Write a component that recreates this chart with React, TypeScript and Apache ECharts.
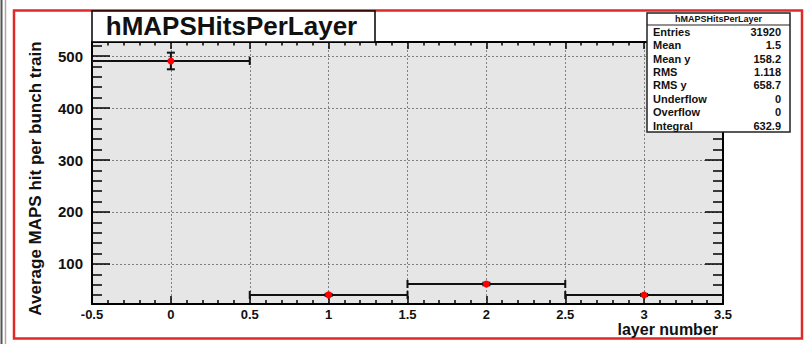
import React, { useEffect, useRef } from "react";
import * as echarts from "echarts";

const layers = [0, 1, 2, 3];
const avgHits = [490.5, 40.5, 61.5, 40.4];
const errors = [16, 2, 2.5, 2];
const yMajor = [100, 200, 300, 400, 500];
const yMinor = [40, 60, 80, 120, 140, 160, 180, 220, 240, 260, 280, 320, 340, 360, 380, 420, 440, 460, 480, 520];
const statNames = ["Entries", "Mean", "Mean y", "RMS", "RMS y", "Underflow", "Overflow", "Integral"];
const statValues = ["31920", "1.5", "158.2", "1.118", "658.7", "0", "0", "632.9"];

const FONT = "'Liberation Sans', Arial, sans-serif";

export default function App() {
  const ref = useRef<HTMLDivElement>(null);
  useEffect(() => {
    if (!ref.current) return;
    const chart = echarts.init(ref.current, undefined, { renderer: "svg" });
    const data = layers.map((l, i) => [l, avgHits[i], errors[i]]);
    const black = { color: "#000", width: 2 };
    const tickStyle = { color: "#000", width: 1.5 };
    const yBase = (position: string) => ({
      type: "value",
      position,
      min: 23,
      max: 527,
      interval: 100,
      axisLine: { show: true, onZero: false, lineStyle: black },
      splitLine: { show: false },
      axisLabel: { show: false },
    });
    const xBase = (position: string) => ({
      type: "value",
      position,
      min: -0.5,
      max: 3.5,
      interval: 0.5,
      axisLine: { show: true, onZero: false, lineStyle: black },
      splitLine: { show: false },
      axisLabel: { show: false },
    });
    const statTop = 25;
    const rowH = 13.4;
    const statGraphics: any[] = [];
    statNames.forEach((n, i) => {
      const y = statTop + rowH * (i + 0.5);
      statGraphics.push({
        type: "text",
        x: 653,
        y,
        z: 110,
        style: { text: n, font: `bold 11px ${FONT}`, fill: "#111", textAlign: "left", textVerticalAlign: "middle" },
      });
      statGraphics.push({
        type: "text",
        x: 781,
        y,
        z: 110,
        style: { text: statValues[i], font: `bold 11px ${FONT}`, fill: "#111", textAlign: "right", textVerticalAlign: "middle" },
      });
    });

    chart.setOption({
      animation: false,
      backgroundColor: "#fff",
      grid: {
        left: 92,
        right: 87,
        top: 42,
        bottom: 40,
        show: true,
        backgroundColor: "#e6e6e6",
        borderWidth: 0,
      },
      xAxis: [
        {
          ...xBase("bottom"),
          axisTick: { show: true, inside: true, length: 8, lineStyle: tickStyle },
          minorTick: { show: true, splitNumber: 5, length: 4, lineStyle: tickStyle },
          axisLabel: {
            show: true,
            margin: 4,
            color: "#111",
            fontFamily: FONT,
            fontWeight: "bold",
            fontSize: 13,
          },
          splitLine: { show: true, lineStyle: { color: "#808080", width: 1, type: [2, 2] } },
        },
        {
          ...xBase("top"),
          axisTick: { show: true, inside: true, length: 7, lineStyle: tickStyle },
          minorTick: { show: true, splitNumber: 5, length: 3.5, lineStyle: tickStyle },
        },
      ],
      yAxis: [
        {
          ...yBase("left"),
          axisTick: { show: true, inside: true, length: 18, customValues: yMajor, lineStyle: tickStyle },
          axisLabel: {
            show: true,
            customValues: yMajor,
            margin: 9,
            color: "#111",
            fontFamily: FONT,
            fontWeight: "bold",
            fontSize: 15,
          },
          splitLine: { show: true, lineStyle: { color: "#808080", width: 1, type: [2, 2] } },
        },
        {
          ...yBase("left"),
          axisLine: { show: false, onZero: false },
          axisTick: { show: true, inside: true, length: 10, customValues: yMinor, lineStyle: tickStyle },
        },
        {
          ...yBase("right"),
          axisTick: { show: true, inside: true, length: 18, customValues: yMajor, lineStyle: tickStyle },
        },
        {
          ...yBase("right"),
          axisLine: { show: false, onZero: false },
          axisTick: { show: true, inside: true, length: 10, customValues: yMinor, lineStyle: tickStyle },
        },
      ],
      series: [
        {
          type: "custom",
          xAxisIndex: 0,
          yAxisIndex: 0,
          clip: true,
          data,
          encode: { x: 0, y: 1 },
          renderItem: (params: any, api: any) => {
            const x = api.value(0);
            const y = api.value(1);
            const e = api.value(2);
            const pL = api.coord([x - 0.5, y]);
            const pR = api.coord([x + 0.5, y]);
            const pC = api.coord([x, y]);
            const pT = api.coord([x, y + e]);
            const pB = api.coord([x, y - e]);
            const cap = 4;
            const ls = { stroke: "#111", lineWidth: 2 };
            const line = (x1: number, y1: number, x2: number, y2: number) => ({
              type: "line",
              shape: { x1, y1, x2, y2 },
              style: ls,
            });
            return {
              type: "group",
              children: [
                line(pL[0], pL[1], pR[0], pR[1]),
                line(pL[0], pL[1] - cap, pL[0], pL[1] + cap),
                line(pR[0], pR[1] - cap, pR[0], pR[1] + cap),
                line(pT[0], pT[1], pB[0], pB[1]),
                line(pT[0] - cap, pT[1], pT[0] + cap, pT[1]),
                line(pB[0] - cap, pB[1], pB[0] + cap, pB[1]),
                { type: "circle", shape: { cx: pC[0], cy: pC[1], r: 3.5 }, style: { fill: "#ff0000" } },
              ],
            };
          },
        },
      ],
      graphic: [
        { type: "line", z: 100, shape: { x1: 1.5, y1: 0, x2: 1.5, y2: 344 }, style: { stroke: "#555", lineWidth: 2 } },
        { type: "line", z: 100, shape: { x1: 5.5, y1: 0, x2: 5.5, y2: 344 }, style: { stroke: "#aaa", lineWidth: 1.5 } },
        { type: "rect", z: 100, shape: { x: 14, y: 10.5, width: 788, height: 328 }, style: { fill: "none", stroke: "#e02a2a", lineWidth: 2.5 } },
        { type: "rect", z: 100, shape: { x: 92, y: 11, width: 283, height: 31 }, style: { fill: "#fff", stroke: "#000", lineWidth: 1.5 } },
        {
          type: "text",
          z: 110,
          x: 231.5,
          y: 26,
          style: { text: "hMAPSHitsPerLayer", font: `bold 26px ${FONT}`, fill: "#111", textAlign: "center", textVerticalAlign: "middle" },
        },
        {
          type: "text",
          z: 110,
          x: 35,
          y: 178.5,
          rotation: Math.PI / 2,
          style: { text: "Average MAPS hit per bunch train", font: `bold 17px ${FONT}`, fill: "#111", textAlign: "center", textVerticalAlign: "middle" },
        },
        {
          type: "text",
          z: 110,
          x: 718,
          y: 329.5,
          style: { text: "layer number", font: `bold 16px ${FONT}`, fill: "#111", textAlign: "right", textVerticalAlign: "middle" },
        },
        { type: "rect", z: 100, shape: { x: 647, y: 13, width: 143, height: 119 }, style: { fill: "#fff", stroke: "#222", lineWidth: 1.5 } },
        { type: "line", z: 105, shape: { x1: 647, y1: 25, x2: 790, y2: 25 }, style: { stroke: "#222", lineWidth: 1.2 } },
        {
          type: "text",
          z: 110,
          x: 718.5,
          y: 19,
          style: { text: "hMAPSHitsPerLayer", font: `bold 9px ${FONT}`, fill: "#111", textAlign: "center", textVerticalAlign: "middle" },
        },
        ...statGraphics,
      ],
    });
    return () => chart.dispose();
  }, []);
  return <div ref={ref} style={{ width: 810, height: 344, position: "absolute", left: 0, top: 0 }} />;
}
